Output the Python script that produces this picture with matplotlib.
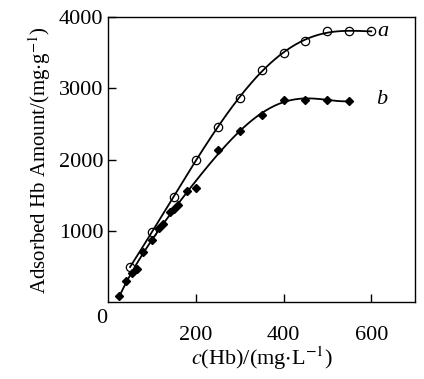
import matplotlib
matplotlib.use("Agg")
import matplotlib.pyplot as plt
import numpy as np

# series a: open circles
a_x = [50, 100, 150, 200, 250, 300, 350, 400, 450, 500, 550, 600]
a_y = [490, 990, 1480, 1990, 2450, 2870, 3260, 3490, 3670, 3800, 3800, 3800]

# series b: filled diamonds
b_x = [25, 40, 55, 65, 80, 100, 115, 125, 140, 150, 160, 180, 200, 250, 300, 350, 400, 450, 500, 550]
b_y = [80, 290, 410, 470, 700, 870, 1040, 1100, 1270, 1300, 1360, 1560, 1600, 2130, 2400, 2620, 2840, 2840, 2840, 2820]

x_ticks = [200, 400, 600]
y_ticks = [1000, 2000, 3000, 4000]

plt.rcParams['font.family'] = ['Liberation Serif', 'DejaVu Serif']
plt.rcParams['mathtext.fontset'] = 'stix'

fig = plt.figure(figsize=(4.24, 3.79), dpi=100)
ax = fig.add_axes([0.255, 0.203, 0.724, 0.752])

# fitted trend lines through each series
for xs, ys in [(a_x, a_y), (b_x, b_y)]:
    coef = np.polyfit(xs, ys, 5)
    xx = np.linspace(xs[0], xs[-1], 200)
    ax.plot(xx, np.polyval(coef, xx), color='black', lw=1.3)

ax.plot(a_x, a_y, ls='none', marker='o', mfc='none', mec='black', ms=6, mew=0.9)
ax.plot(b_x, b_y, ls='none', marker='D', mfc='black', mec='black', ms=4)

ax.text(615, 3800, 'a', fontsize=16, style='italic', va='center', ha='left')
ax.text(612, 2840, 'b', fontsize=16, style='italic', va='center', ha='left')

ax.set_xlim(0, 700)
ax.set_ylim(0, 4000)
ax.set_xticks(x_ticks)
ax.set_yticks(y_ticks)
ax.tick_params(direction='in', length=6, width=1, labelsize=16)
ax.tick_params(axis='x', pad=17)
ax.text(-0.002, -0.025, '0', transform=ax.transAxes, fontsize=16, ha='right', va='top')

for s in ax.spines.values():
    s.set_linewidth(1.0)

ax.set_xlabel('$c$(Hb)/(mg$\\cdot$L$^{-1}$)', fontsize=16, labelpad=0)
ax.set_ylabel('Adsorbed Hb Amount/(mg$\\cdot$g$^{-1}$)', fontsize=15, labelpad=4)

fig.savefig('out.png', dpi=100)
